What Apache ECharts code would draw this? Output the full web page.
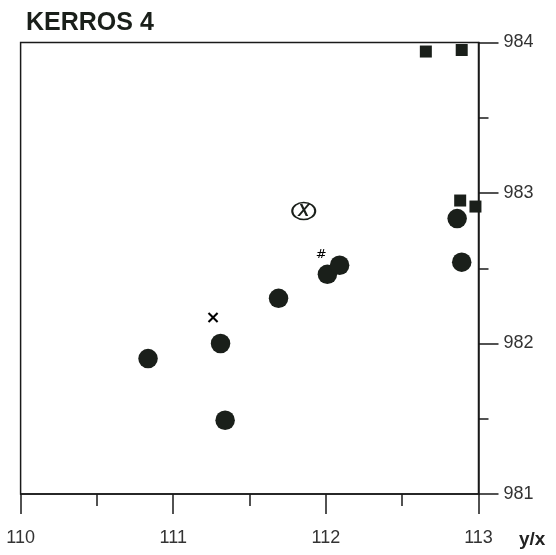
<!DOCTYPE html>
<html>
<head>
<meta charset="utf-8">
<script src="https://cdn.jsdelivr.net/npm/echarts@6/dist/echarts.min.js"></script>
<style>html,body{margin:0;padding:0;background:#fff}#c{width:556px;height:555px}</style>
</head>
<body>
<div id="c"></div>
<script>
const titleText = 'KERROS 4';
const xAxisName = 'y/x';
const xTicks = [110, 111, 112, 113];
const yTicks = [981, 982, 983, 984];
const circleX = [110.835, 111.31, 111.34, 111.69, 112.01, 112.09, 112.86, 112.89];
const circleY = [981.90, 982.00, 981.49, 982.30, 982.46, 982.52, 982.83, 982.54];
const squareX = [112.655, 112.89, 112.88, 112.98];
const squareY = [983.94, 983.95, 982.95, 982.91];
const crossPt = [111.26, 982.17];
const hashPt = [111.97, 982.59];
const circledXPt = [111.855, 982.88];

const ink = '#1a1f1a';
const chart = echarts.init(document.getElementById('c'));
chart.setOption({
  animation: false,
  backgroundColor: '#fff',
  title: {
    text: titleText, left: 21, top: 6,
    textStyle: {fontFamily: 'Liberation Sans, Arial, sans-serif', fontSize: 25, fontWeight: 'bold', color: '#1a1f1a'}
  },
  grid: {left: 20.6, right: 77.5, top: 42.5, bottom: 61, show: true, borderColor: '#1a1a1a', borderWidth: 1.5, backgroundColor: 'transparent'},
  xAxis: {
    type: 'value', min: xTicks[0], max: xTicks[xTicks.length - 1], interval: 1,
    axisLine: {show: true, lineStyle: {color: '#1a1a1a', width: 1.5}},
    axisTick: {show: true, length: 20, lineStyle: {color: '#1a1a1a', width: 1.5}},
    minorTick: {show: true, splitNumber: 2, length: 12, lineStyle: {color: '#1a1a1a', width: 1.5}},
    splitLine: {show: false},
    axisLabel: {margin: 35, fontSize: 18, color: '#333', fontFamily: 'Liberation Sans, Arial, sans-serif',
      showMinLabel: true, showMaxLabel: true}
  },
  yAxis: {
    type: 'value', position: 'right', min: yTicks[0], max: yTicks[yTicks.length - 1], interval: 1,
    axisLine: {show: true, lineStyle: {color: '#1a1a1a', width: 1.5}},
    axisTick: {show: true, length: 20, lineStyle: {color: '#1a1a1a', width: 1.5}},
    minorTick: {show: true, splitNumber: 2, length: 10, lineStyle: {color: '#1a1a1a', width: 1.5}},
    splitLine: {show: false},
    axisLabel: {margin: 25, fontSize: 18, color: '#333', fontFamily: 'Liberation Sans, Arial, sans-serif',
      showMinLabel: true, showMaxLabel: true}
  },
  graphic: [{
    type: 'text', left: 519, top: 530,
    style: {text: xAxisName, font: 'bold 19px "Liberation Sans", Arial, sans-serif', fill: '#222'}
  }],
  series: [
    {type: 'scatter', symbol: 'circle', symbolSize: 19.5, itemStyle: {color: ink, opacity: 1},
     data: circleX.map((x, i) => [x, circleY[i]])},
    {type: 'scatter', symbol: 'rect', symbolSize: 12, itemStyle: {color: ink, opacity: 1},
     data: squareX.map((x, i) => [x, squareY[i]])},
    {type: 'scatter', symbol: 'circle', symbolSize: 1, itemStyle: {color: 'rgba(0,0,0,0)', opacity: 1},
     label: {show: true, position: 'inside', formatter: '×', fontSize: 18, fontWeight: 'bold', color: '#000', opacity: 1, fontFamily: 'DejaVu Sans, sans-serif'},
     data: [crossPt]},
    {type: 'scatter', symbol: 'circle', symbolSize: 1, itemStyle: {color: 'rgba(0,0,0,0)', opacity: 1},
     label: {show: true, position: 'inside', formatter: '#', fontSize: 13, color: '#000', opacity: 1, fontFamily: 'DejaVu Sans, sans-serif'},
     data: [hashPt]},
    {type: 'scatter', symbol: 'circle', symbolSize: [23, 17],
     itemStyle: {color: 'rgba(0,0,0,0)', borderColor: ink, borderWidth: 1.8, opacity: 1},
     label: {show: true, position: 'inside', formatter: 'X', fontSize: 17, fontWeight: 'bold', fontStyle: 'italic', color: ink, fontFamily: 'Liberation Sans, Arial, sans-serif'},
     data: [circledXPt]}
  ]
});
</script>
</body>
</html>
